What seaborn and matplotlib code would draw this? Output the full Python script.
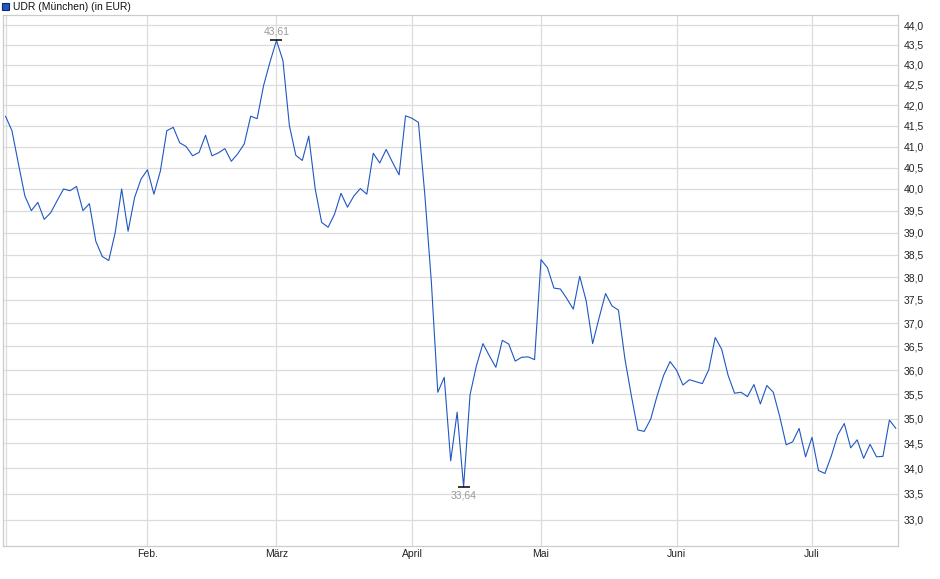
import numpy as np
import matplotlib as mpl
mpl.use('agg')
import matplotlib.pyplot as plt
from matplotlib import ticker
from matplotlib.patches import Rectangle
import pandas as pd
import seaborn as sns

# data: closing prices per trading day, 2025 (Munich, EUR)
jan = [41.73, 41.38, 40.59, 39.84, 39.50, 39.69, 39.30, 39.45, 39.73, 40.00, 39.96,
       40.06, 39.50, 39.66, 38.80, 38.46, 38.37, 39.00, 40.00, 39.03, 39.80, 40.23]
feb = [40.45, 39.88, 40.42, 41.38, 41.46, 41.09, 41.00, 40.78, 40.86, 41.27,
       40.78, 40.85, 40.95, 40.65, 40.83, 41.06, 41.73, 41.67, 42.48, 43.07]
mar = [43.61, 43.10, 41.50, 40.79, 40.67, 41.25, 40.00, 39.23, 39.12, 39.42, 39.90,
       39.58, 39.84, 40.01, 39.88, 40.84, 40.61, 40.93, 40.62, 40.33, 41.74]
apr = [41.68, 41.58, 39.85, 37.90, 35.54, 35.85, 34.15, 35.13, 33.64, 35.49,
       36.10, 36.56, 36.30, 36.06, 36.63, 36.55, 36.19, 36.27, 36.28, 36.22]
may = [38.39, 38.21, 37.76, 37.74, 37.53, 37.30, 38.02, 37.48, 36.56, 37.11, 37.64,
       37.37, 37.28, 36.24, 35.47, 34.77, 34.74, 34.99, 35.47, 35.89, 36.18]
jun = [36.00, 35.69, 35.80, 35.76, 35.72, 36.01, 36.69, 36.44, 35.89, 35.52, 35.54,
       35.45, 35.70, 35.30, 35.68, 35.54, 35.04, 34.47, 34.53, 34.80, 34.23]
jul = [34.62, 33.96, 33.90, 34.25, 34.67, 34.90, 34.41, 34.57, 34.20, 34.48,
       34.23, 34.24, 34.97, 34.80]

month_names = ['', 'Feb.', 'März', 'April', 'Mai', 'Juni', 'Juli']
months = [jan, feb, mar, apr, may, jun, jul]
y_ticks = np.arange(33.0, 44.01, 0.5)

prices = [p for m in months for p in m]
df = pd.DataFrame({'day': np.arange(len(prices)), 'price': prices})
month_starts = np.cumsum([0] + [len(m) for m in months[:-1]])

sns.set_style('white')
plt.rcParams['font.family'] = ['Liberation Sans', 'DejaVu Sans']

fig = plt.figure(figsize=(9.4, 5.79), dpi=100)
ax = fig.add_axes([3 / 940, 1 - 546 / 579, 895 / 940, 531 / 579])

sns.lineplot(data=df, x='day', y='price', ax=ax, color='#1f57c3', linewidth=0.8, zorder=3)

ax.set_yscale('log')
ax.set_ylim(32.50, 44.26)
ax.set_xlim(-0.39, 138.33)

# grid
ax.yaxis.set_major_locator(ticker.FixedLocator(y_ticks))
ax.yaxis.set_minor_locator(ticker.NullLocator())
ax.yaxis.set_major_formatter(ticker.FuncFormatter(lambda v, _: f'{v:.1f}'.replace('.', ',')))
ax.xaxis.set_major_locator(ticker.FixedLocator(month_starts))
ax.set_xticklabels(month_names)
ax.grid(True, color='#dcdcdc', linewidth=0.9, zorder=0)

ax.yaxis.tick_right()
ax.tick_params(axis='y', length=0, pad=4, labelsize=7.5, colors='#222222')
ax.tick_params(axis='x', length=0, pad=2, labelsize=7.5, colors='#222222')
ax.set_xlabel('')
ax.set_ylabel('')
for s in ax.spines.values():
    s.set_color('#cccccc')
    s.set_linewidth(0.9)

# high / low marks
i_max = int(np.argmax(prices))
i_min = int(np.argmin(prices))
for i, off, va in [(i_max, 3, 'bottom'), (i_min, -3, 'top')]:
    ax.plot(i, prices[i], marker='_', markersize=9, markeredgewidth=1.1, color='black', zorder=4)
    ax.annotate(f'{prices[i]:.2f}'.replace('.', ','), (i, prices[i]), xytext=(0, off),
                textcoords='offset points', ha='center', va=va, fontsize=7.5, color='#9a9a9a')

# title with legend square
fig.patches.append(Rectangle((2 / 940, 1 - 10 / 579), 7 / 940, 7 / 579, transform=fig.transFigure,
                             facecolor='#1f57c3', edgecolor='#0a2a70', linewidth=0.8))
fig.text(13 / 940, 1 - 6.5 / 579, 'UDR (München) (in EUR)', fontsize=7.5, va='center', ha='left', color='#111111')

plt.savefig('out.png', dpi=100)
